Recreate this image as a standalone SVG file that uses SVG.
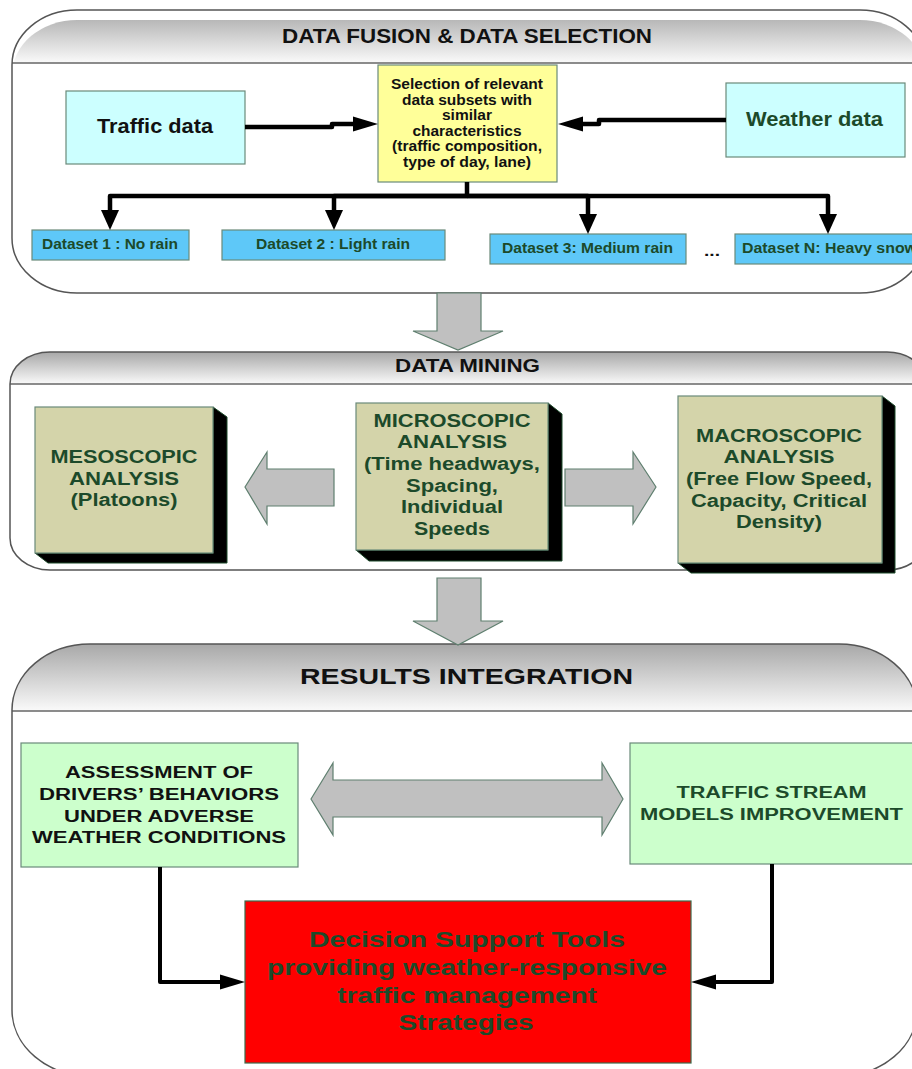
<svg xmlns="http://www.w3.org/2000/svg" width="912" height="1069" viewBox="0 0 912 1069">
<style>
text{font-family:"Liberation Sans",Arial,sans-serif;font-weight:bold;}
.t{fill:#111;}
.g{fill:#1c4a2a;}
.mid{text-anchor:middle;}
.panel{fill:#fff;}
.pout{fill:none;stroke:#555;stroke-width:1.5;}
.hl{stroke:#666;stroke-width:1.5;}
.box{stroke:#6a8a7a;stroke-width:1.2;}
.cyan{fill:#ccffff;}
.yel{fill:#ffff99;}
.ds{fill:#5ec8f8;}
.kh{fill:#d4d4aa;}
.sh{fill:#000;stroke:#1c4a2a;stroke-width:1;}
.lg{fill:#ccffcc;}
.red{fill:#ff0000;stroke:#3c6a4a;stroke-width:1.2;}
.big{fill:#c0c0c0;stroke:#5f7f6f;stroke-width:1.2;}
.c{fill:none;stroke:#000;stroke-width:4.5;stroke-linejoin:round;}
.c2{fill:none;stroke:#000;stroke-width:4;stroke-linejoin:round;}
</style>
<defs>
<linearGradient id="hg" x1="0" y1="0" x2="0" y2="1">
<stop offset="0" stop-color="#a8a8a8"/>
<stop offset="1" stop-color="#fafafa"/>
</linearGradient>
<clipPath id="cp1"><rect x="12" y="10" width="913" height="283" rx="65" ry="55"/></clipPath>
<clipPath id="cp2"><rect x="10" y="352" width="917" height="218" rx="40" ry="32"/></clipPath>
<clipPath id="cp3"><rect x="12" y="644" width="905" height="432" rx="78" ry="66"/></clipPath>
<marker id="ma" markerUnits="userSpaceOnUse" markerWidth="25" markerHeight="15" refX="0" refY="7.5" orient="auto" overflow="visible">
<path d="M0,0 L25,7.5 L0,15 z" fill="#000"/>
</marker>
<marker id="mt" markerUnits="userSpaceOnUse" markerWidth="20" markerHeight="18" refX="0" refY="9" orient="auto" overflow="visible">
<path d="M0,0 L20,9 L0,18 z" fill="#000"/>
</marker>
</defs>

<!-- Panels -->
<g id="panel-fusion">
<rect class="panel" x="12" y="10" width="913" height="283" rx="65" ry="55"/>
<rect x="0" y="0" width="930" height="53" fill="url(#hg)" clip-path="url(#cp1)" transform="translate(0,10)"/>
<line class="hl" x1="12" y1="63" x2="925" y2="63"/>
<rect class="pout" x="12" y="10" width="913" height="283" rx="65" ry="55"/>
<text class="t mid" x="467" y="43" font-size="19.5" textLength="370" lengthAdjust="spacingAndGlyphs">DATA FUSION &amp; DATA SELECTION</text>
</g>
<g id="panel-mining">
<rect class="panel" x="10" y="352" width="917" height="218" rx="40" ry="32"/>
<rect x="0" y="352" width="930" height="32" fill="url(#hg)" clip-path="url(#cp2)"/>
<line class="hl" x1="10" y1="384" x2="927" y2="384"/>
<rect class="pout" x="10" y="352" width="917" height="218" rx="40" ry="32"/>
<text class="t mid" x="467.5" y="372" font-size="18" textLength="145" lengthAdjust="spacingAndGlyphs">DATA MINING</text>
</g>
<g id="panel-results">
<rect class="panel" x="12" y="644" width="905" height="432" rx="78" ry="66"/>
<rect x="0" y="644" width="930" height="67" fill="url(#hg)" clip-path="url(#cp3)"/>
<line class="hl" x1="12" y1="711" x2="917" y2="711"/>
<rect class="pout" x="12" y="644" width="905" height="432" rx="78" ry="66"/>
<text class="t mid" x="466.5" y="684" font-size="22" textLength="333" lengthAdjust="spacingAndGlyphs">RESULTS INTEGRATION</text>
</g>

<!-- Nodes panel 1 -->
<g id="traffic-data">
<rect class="box cyan" x="66" y="91" width="179" height="73"/>
<text class="t mid" x="155" y="133" font-size="21" textLength="116" lengthAdjust="spacingAndGlyphs">Traffic data</text>
</g>
<g id="selection">
<rect class="box yel" x="378" y="65" width="179" height="117"/>
<g class="t mid" font-size="14.5">
<text class="mid" x="467" y="89" textLength="152" lengthAdjust="spacingAndGlyphs">Selection of relevant</text>
<text class="mid" x="467" y="104.5" textLength="130" lengthAdjust="spacingAndGlyphs">data subsets with</text>
<text class="mid" x="467" y="120" textLength="50" lengthAdjust="spacingAndGlyphs">similar</text>
<text class="mid" x="467" y="135.5" textLength="109" lengthAdjust="spacingAndGlyphs">characteristics</text>
<text class="mid" x="467" y="151" textLength="150" lengthAdjust="spacingAndGlyphs">(traffic composition,</text>
<text class="mid" x="467" y="166.5" textLength="128" lengthAdjust="spacingAndGlyphs">type of day, lane)</text>
</g>
</g>
<g id="weather-data">
<rect class="box cyan" x="726" y="83" width="179" height="74"/>
<text class="g mid" x="814.5" y="126" font-size="21" textLength="137" lengthAdjust="spacingAndGlyphs">Weather data</text>
</g>
<g id="dataset1">
<rect class="box ds" x="32" y="230" width="157" height="30"/>
<text class="g mid" x="110" y="249" font-size="14" textLength="136" lengthAdjust="spacingAndGlyphs">Dataset 1 : No rain</text>
</g>
<g id="dataset2">
<rect class="box ds" x="222" y="230" width="223" height="30"/>
<text class="g mid" x="333" y="249" font-size="14" textLength="154" lengthAdjust="spacingAndGlyphs">Dataset 2 : Light rain</text>
</g>
<g id="dataset3">
<rect class="box ds" x="490" y="234" width="196" height="30"/>
<text class="g mid" x="587.5" y="253" font-size="14" textLength="171" lengthAdjust="spacingAndGlyphs">Dataset 3: Medium rain</text>
</g>
<g id="ellipsis">
<text class="t" x="704" y="256" font-size="14" textLength="16" lengthAdjust="spacingAndGlyphs">...</text>
</g>
<g id="datasetN">
<rect class="box ds" x="735" y="234" width="195" height="30"/>
<text class="g" x="742" y="253" font-size="14" textLength="175" lengthAdjust="spacingAndGlyphs">Dataset N: Heavy snow</text>
</g>

<!-- Big gray flow arrows -->
<g id="flow-arrow-1">
<polygon class="big" points="437,293 481,293 481,331 503,331 458,350 413,331 437,331"/>
</g>
<g id="flow-arrow-2">
<polygon class="big" points="437,578 481,578 481,621 503,621 458,645 413,621 437,621"/>
</g>

<!-- Nodes panel 2 -->
<g id="mesoscopic">
<polygon class="sh" points="213,407 227,417 227,563 48,563 35,553 213,553"/>
<rect class="box kh" x="35" y="407" width="178" height="146"/>
<g class="g" font-size="18">
<text class="mid" x="124" y="463" textLength="147" lengthAdjust="spacingAndGlyphs">MESOSCOPIC</text>
<text class="mid" x="124" y="485" textLength="110" lengthAdjust="spacingAndGlyphs">ANALYSIS</text>
<text class="mid" x="124" y="506" textLength="107" lengthAdjust="spacingAndGlyphs">(Platoons)</text>
</g>
</g>
<g id="arrow-left">
<polygon class="big" points="245,487 267,452 267,469 334,469 334,506 267,506 267,524"/>
</g>
<g id="microscopic">
<polygon class="sh" points="548,403 562,414 562,561 369,561 356,550 548,550"/>
<rect class="box kh" x="356" y="403" width="192" height="147"/>
<g class="g" font-size="18">
<text class="mid" x="452" y="427" textLength="157" lengthAdjust="spacingAndGlyphs">MICROSCOPIC</text>
<text class="mid" x="452" y="448" textLength="110" lengthAdjust="spacingAndGlyphs">ANALYSIS</text>
<text class="mid" x="452" y="470" textLength="176" lengthAdjust="spacingAndGlyphs">(Time headways,</text>
<text class="mid" x="452" y="492" textLength="92" lengthAdjust="spacingAndGlyphs">Spacing,</text>
<text class="mid" x="452" y="513" textLength="102" lengthAdjust="spacingAndGlyphs">Individual</text>
<text class="mid" x="452" y="535" textLength="76" lengthAdjust="spacingAndGlyphs">Speeds</text>
</g>
</g>
<g id="arrow-right">
<polygon class="big" points="656,487 633,452 633,469 565,469 565,506 633,506 633,524"/>
</g>
<g id="macroscopic">
<polygon class="sh" points="882,396 895,406 895,573 691,573 678,563 882,563"/>
<rect class="box kh" x="678" y="396" width="204" height="167"/>
<g class="g" font-size="18">
<text class="mid" x="779" y="442" textLength="166" lengthAdjust="spacingAndGlyphs">MACROSCOPIC</text>
<text class="mid" x="779" y="463" textLength="111" lengthAdjust="spacingAndGlyphs">ANALYSIS</text>
<text class="mid" x="779" y="485" textLength="186" lengthAdjust="spacingAndGlyphs">(Free Flow Speed,</text>
<text class="mid" x="779" y="507" textLength="176" lengthAdjust="spacingAndGlyphs">Capacity, Critical</text>
<text class="mid" x="779" y="528" textLength="86" lengthAdjust="spacingAndGlyphs">Density)</text>
</g>
</g>

<!-- Nodes panel 3 -->
<g id="assessment">
<rect class="box lg" x="21" y="743" width="277" height="124"/>
<g class="t" font-size="16">
<text class="mid" x="159" y="778" textLength="188" lengthAdjust="spacingAndGlyphs">ASSESSMENT OF</text>
<text class="mid" x="159" y="800" textLength="240" lengthAdjust="spacingAndGlyphs">DRIVERS’ BEHAVIORS</text>
<text class="mid" x="159" y="822" textLength="190" lengthAdjust="spacingAndGlyphs">UNDER ADVERSE</text>
<text class="mid" x="159" y="843" textLength="254" lengthAdjust="spacingAndGlyphs">WEATHER CONDITIONS</text>
</g>
</g>
<g id="double-arrow">
<polygon class="big" points="311,799 333,763 333,780 602,780 602,763 623,799 602,835 602,817 333,817 333,835"/>
</g>
<g id="traffic-stream">
<rect class="box lg" x="630" y="743" width="295" height="121"/>
<g class="g" font-size="16">
<text class="mid" x="771.5" y="798" textLength="190" lengthAdjust="spacingAndGlyphs">TRAFFIC STREAM</text>
<text class="mid" x="771.5" y="820" textLength="263" lengthAdjust="spacingAndGlyphs">MODELS IMPROVEMENT</text>
</g>
</g>
<g id="decision-support">
<rect class="red" x="245" y="901" width="446" height="162"/>
<g class="g" font-size="22" fill="#204a28">
<text class="mid" x="467" y="947" textLength="316" lengthAdjust="spacingAndGlyphs">Decision Support Tools</text>
<text class="mid" x="467" y="975" textLength="400" lengthAdjust="spacingAndGlyphs">providing weather-responsive</text>
<text class="mid" x="467" y="1003" textLength="260" lengthAdjust="spacingAndGlyphs">traffic management</text>
<text class="mid" x="466" y="1030" textLength="135" lengthAdjust="spacingAndGlyphs">Strategies</text>
</g>
</g>

<!-- Connectors -->
<g id="connectors">
<path class="c" d="M245,127 H332 V124 H353" marker-end="url(#ma)"/>
<path class="c" d="M726,120 H599 V124 H583" marker-end="url(#ma)"/>
<path class="c" d="M467,182 V196 H110 V210" marker-end="url(#mt)"/>
<path class="c" d="M467,196 H334 V210" marker-end="url(#mt)"/>
<path class="c" d="M467,196 H588 V214" marker-end="url(#mt)"/>
<path class="c" d="M467,196 H828 V214" marker-end="url(#mt)"/>
<path class="c2" d="M160,867 V982 H220" marker-end="url(#ma)"/>
<path class="c2" d="M772,864 V982 H716" marker-end="url(#ma)"/>
</g>
</svg>
